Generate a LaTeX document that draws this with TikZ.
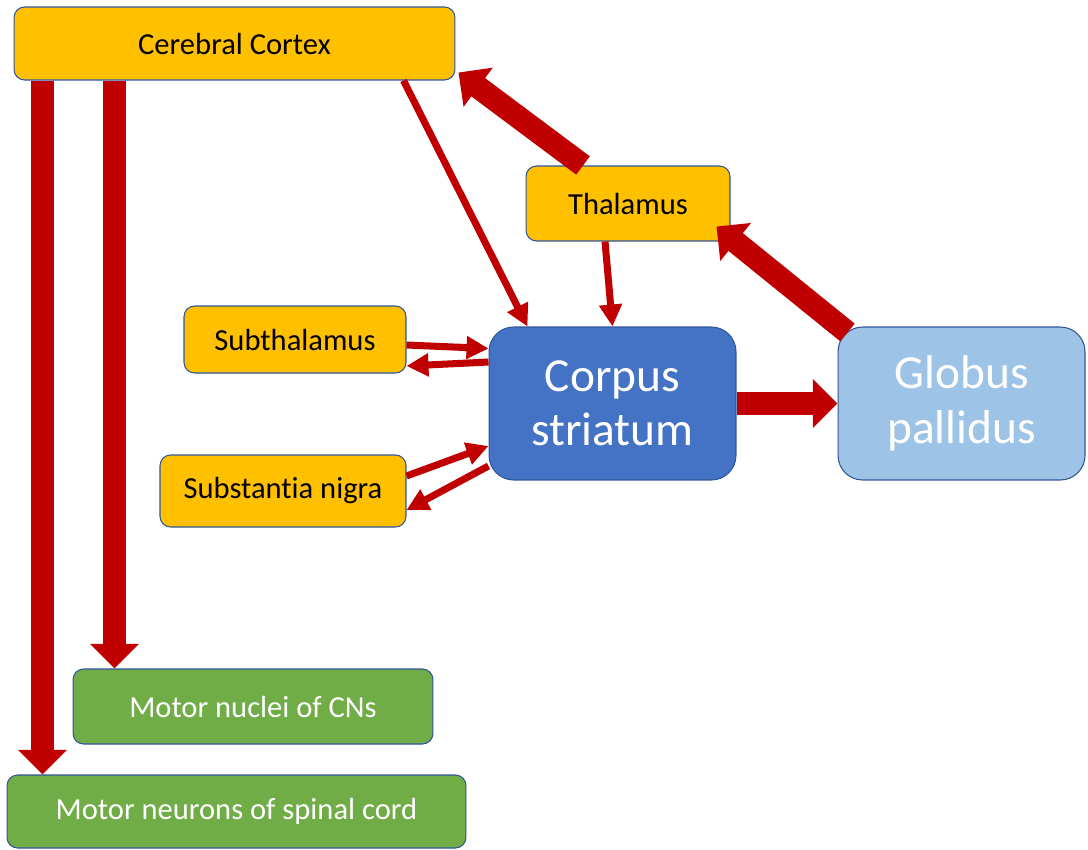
\documentclass[tikz,border=0pt]{standalone}
\usepackage{fontspec}
\setmainfont{Carlito}[Ligatures=NoCommon]
\usetikzlibrary{arrows.meta}
\definecolor{boxorange}{HTML}{FFC000}
\definecolor{boxblue}{HTML}{4472C4}
\definecolor{boxlight}{HTML}{9DC3E6}
\definecolor{boxgreen}{HTML}{70AD47}
\definecolor{boxline}{HTML}{2F5597}
\definecolor{arrowred}{HTML}{C00000}
\tikzset{
    box/.style={draw=boxline, line width=0.6pt, rounded corners=6pt, align=center, inner sep=0pt, font=\fontsize{17.4}{21}\selectfont},
    orangebox/.style={box, fill=boxorange, text=black},
    greenbox/.style={box, fill=boxgreen, text=white},
    bigbox/.style={box, rounded corners=14pt, text=white, font=\fontsize{27}{31}\selectfont, minimum width=4.94cm, minimum height=3.06cm},
    thickarrow/.style={draw=arrowred, line width=13pt, -{Triangle[width=27pt, length=14pt]}},
    thinarrow/.style={draw=arrowred, line width=4pt, -{Triangle[width=12.5pt, length=12.5pt]}}
}
\begin{document}
\begin{tikzpicture}[x=0.02cm, y=-0.02cm]
    \useasboundingbox (0,0) rectangle (1088,849);

    \node[orangebox, minimum width=8.82cm, minimum height=1.46cm] (cortex) at (234.5,43.5) {Cerebral Cortex};
    \node[orangebox, minimum width=4.08cm, minimum height=1.5cm] (thal) at (628,203.5) {Thalamus};
    \node[orangebox, minimum width=4.44cm, minimum height=1.34cm] (subthal) at (295,339.5) {Subthalamus};
    \node[orangebox, minimum width=4.92cm, minimum height=1.44cm] (nigra) at (283,491) {Substantia nigra};

    \node[bigbox, fill=boxblue] (striatum) at (612.5,403.5) {Corpus\\striatum};
    \node[bigbox, fill=boxlight] (pallidus) at (961.5,403.5) {Globus\\pallidus};

    \node[greenbox, minimum width=7.2cm, minimum height=1.5cm] (nuclei) at (253,706.5) {Motor nuclei of CNs};
    \node[greenbox, minimum width=9.18cm, minimum height=1.46cm] (spinal) at (236.5,811.5) {Motor neurons of spinal cord};

    \draw[thickarrow] ([xshift=0.58cm]cortex.south west) -- ([xshift=0.58cm]cortex.south west |- spinal.north);
    \draw[thickarrow] ([xshift=2.02cm]cortex.south west) -- ([xshift=2.02cm]cortex.south west |- nuclei.north);
    \draw[thickarrow] ([xshift=-0.9cm]thal.north) -- ([shift={(0.06cm,0.16cm)}]cortex.south east);
    \draw[thickarrow] ([shift={(0.2cm,-0.12cm)}]pallidus.north west) -- ([shift={(-0.28cm,0.3cm)}]thal.south east);
    \draw[thickarrow] (striatum.east) -- (pallidus.west);

    \draw[thinarrow] ([xshift=-1.04cm]cortex.south east) -- ([xshift=0.78cm]striatum.north west);
    \draw[thinarrow] ([xshift=-0.46cm]thal.south) -- (striatum.north);
    \draw[thinarrow] ([yshift=-0.11cm]subthal.east) -- ([yshift=1.1cm]striatum.west);
    \draw[thinarrow] ([yshift=0.83cm]striatum.west) -- ([yshift=-0.53cm]subthal.east);
    \draw[thinarrow] ([yshift=0.3cm]nigra.east) -- ([yshift=-0.85cm]striatum.west);
    \draw[thinarrow] ([yshift=-1.25cm]striatum.west) -- ([yshift=-0.38cm]nigra.east);
\end{tikzpicture}
\end{document}
